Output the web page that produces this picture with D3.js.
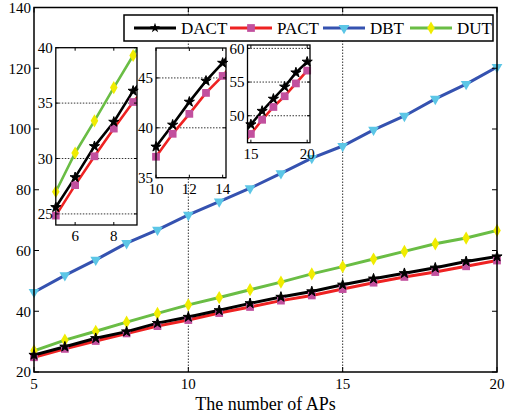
<!DOCTYPE html>
<html><head><meta charset="utf-8">
<script src="https://cdn.jsdelivr.net/npm/d3@7"></script>
<style>body{margin:0;background:#fff}svg{display:block}</style>
</head><body><svg id="c" width="505" height="417" font-family="'Liberation Serif','Times New Roman','DejaVu Serif',serif"></svg>
<script>
const xs = [5,6,7,8,9,10,11,12,13,14,15,16,17,18,19,20];
const DACT = [25.6,28.3,31.1,33.3,36.1,38.1,40.3,42.6,44.7,46.5,48.7,50.7,52.5,54.3,56.4,58.0];
const PACT = [24.85,27.6,30.2,32.7,35.1,37.1,39.4,41.4,43.5,45.2,47.3,49.4,51.3,52.9,54.8,56.7];
const DBT  = [46.3,51.8,56.9,62.4,66.8,71.7,76.1,80.5,85.4,90.4,94.4,99.7,104.3,109.9,114.8,120.4];
const DUT  = [27.0,30.5,33.4,36.4,39.3,42.1,44.5,47.1,49.6,52.3,54.7,57.2,59.7,62.2,64.1,66.6];
const seriesNames = ["DACT","PACT","DBT","DUT"];
const xTicks = [5,10,15,20];
const yTicks = [20,40,60,80,100,120,140];
const xLabel = "The number of APs";
const insets = [
  {xd:[5,9.2], yd:[24,40], xt:[6,8], yt:[25,30,35,40], series:["DUT","PACT","DACT"]},
  {xd:[10,14.2], yd:[35,48], xt:[10,12,14], yt:[35,40,45], series:["PACT","DACT"]},
  {xd:[14.7,20.25], yd:[46,60.5], xt:[15,20], yt:[50,55,60], series:["PACT","DACT"]}
];

const styles = {
  DACT:{line:"#000", fill:"#000", sym:d3.symbolStar, size:32},
  PACT:{line:"#ee2222", fill:"#c2509e", sym:d3.symbolSquare, size:60},
  DBT:{line:"#3552b0", fill:"#5cc6e6", sym:d3.symbolTriangle, size:50, rot:180},
  DUT:{line:"#6abd45", fill:"#f0ec00", sym:d3.symbolDiamond, size:50}
};
const data = {DACT, PACT, DBT, DUT};
const svg = d3.select("#c");

function drawPanel(g, x, y, opts, id){
  const [x0,x1] = x.range(), [y0,y1] = y.range();
  g.append("rect").attr("x",x0).attr("y",y1).attr("width",x1-x0).attr("height",y0-y1).attr("fill","#fff");
  (opts.vgrid||[]).forEach(v=>g.append("line").attr("x1",x(v)).attr("x2",x(v)).attr("y1",y0).attr("y2",y1)
     .attr("stroke","#000").attr("stroke-width",0.8).attr("stroke-dasharray","1.5,1.5"));
  (opts.hgrid||[]).forEach(v=>g.append("line").attr("x1",x0).attr("x2",x1).attr("y1",y(v)).attr("y2",y(v))
     .attr("stroke","#000").attr("stroke-width",0.8).attr("stroke-dasharray","1.5,1.5"));
  const clip = svg.append("defs").append("clipPath").attr("id",id);
  clip.append("rect").attr("x",x0).attr("y",y1).attr("width",x1-x0).attr("height",y0-y1);
  const pg = g.append("g").attr("clip-path",`url(#${id})`);
  const order = opts.series;
  order.forEach(n=>{
    const st = styles[n];
    const pts = xs.map((v,i)=>[v,data[n][i]]);
    pg.append("path").attr("d",d3.line().x(d=>x(d[0])).y(d=>y(d[1]))(pts))
      .attr("fill","none").attr("stroke",st.line).attr("stroke-width",opts.lw);
  });
  order.forEach(n=>{
    const st = styles[n];
    xs.forEach((v,i)=>{
      const px=x(v), py=y(data[n][i]);
      if(px<x0-6||px>x1+6||py<y1-6||py>y0+6) return;
      g.append("path").attr("d",d3.symbol().type(st.sym).size(st.size)())
        .attr("transform",`translate(${px},${py}) rotate(${st.rot||0})`).attr("fill",st.fill)
        .attr("stroke", n==="DACT"?"#000":"none").attr("stroke-width",n==="DACT"?1:0);
    });
  });
  const tl = opts.tl;
  const ax = g.append("g");
  ax.append("rect").attr("x",x0).attr("y",y1).attr("width",x1-x0).attr("height",y0-y1)
    .attr("fill","none").attr("stroke","#000").attr("stroke-width",opts.fw);
  opts.xt.forEach(v=>{
    ax.append("line").attr("x1",x(v)).attr("x2",x(v)).attr("y1",y0).attr("y2",y0-tl).attr("stroke","#000");
    ax.append("line").attr("x1",x(v)).attr("x2",x(v)).attr("y1",y1).attr("y2",y1+tl).attr("stroke","#000");
    ax.append("text").attr("x",x(v)).attr("y",y0+opts.xoff).attr("text-anchor","middle").attr("font-size",opts.fs).text(v);
  });
  opts.yt.forEach(v=>{
    ax.append("line").attr("x1",x0).attr("x2",x0+tl).attr("y1",y(v)).attr("y2",y(v)).attr("stroke","#000");
    ax.append("line").attr("x1",x1).attr("x2",x1-tl).attr("y1",y(v)).attr("y2",y(v)).attr("stroke","#000");
    ax.append("text").attr("x",x0-3).attr("y",y(v)).attr("dy","0.35em").attr("text-anchor","end").attr("font-size",opts.fs).text(v);
  });
}

const mx = d3.scaleLinear().domain([5,20]).range([34,497]);
const my = d3.scaleLinear().domain([20,140]).range([372,7.5]);
drawPanel(svg.append("g"), mx, my, {vgrid:[10,15], hgrid:[], lw:3, fw:1.5, tl:5, xt:xTicks, yt:yTicks, fs:15, xoff:17, series:["DBT","DUT","PACT","DACT"]}, "cm");
svg.append("text").attr("x",(34+497)/2).attr("y",410).attr("text-anchor","middle").attr("font-size",18).text(xLabel);

const lg = svg.append("g");
lg.append("rect").attr("x",124).attr("y",15).attr("width",369).attr("height",26).attr("fill","#fff").attr("stroke","#000").attr("stroke-width",1.5);
const lx = [134,230,323,410];
seriesNames.forEach((n,i)=>{
  const st = styles[n], x0 = lx[i];
  lg.append("line").attr("x1",x0).attr("x2",x0+42).attr("y1",28).attr("y2",28).attr("stroke",st.line).attr("stroke-width",3);
  lg.append("path").attr("d",d3.symbol().type(st.sym).size(st.size)()).attr("transform",`translate(${x0+21},28) rotate(${st.rot||0})`).attr("fill",st.fill);
  lg.append("text").attr("x",x0+47).attr("y",28).attr("dy","0.35em").attr("font-size",17).text(n);
});

const boxes = [[55.8,137,225,47.7],[156,226,177.7,48],[247.5,310,142.7,45]];
insets.forEach((ins,i)=>{
  const b = boxes[i];
  const x = d3.scaleLinear().domain(ins.xd).range([b[0],b[1]]);
  const y = d3.scaleLinear().domain(ins.yd).range([b[2],b[3]]);
  drawPanel(svg.append("g"), x, y, {vgrid:[], hgrid:ins.yt.filter(v=>v>ins.yd[0]&&v<ins.yd[1]), lw:2.6, fw:1.3, tl:3, xt:ins.xt, yt:ins.yt, fs:15, xoff:16, series:ins.series}, "ci"+i);
});
</script></body></html>
